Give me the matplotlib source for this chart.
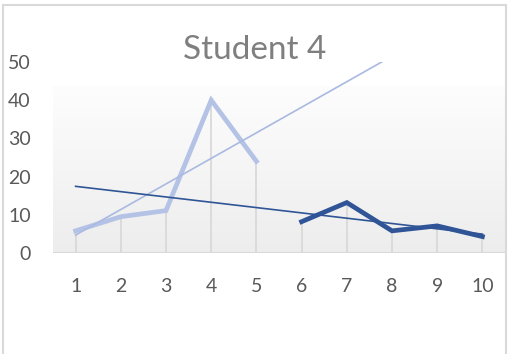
import numpy as np
import matplotlib
matplotlib.use("Agg")
import matplotlib.pyplot as plt
from matplotlib.patches import Rectangle

plt.rcParams['font.family'] = ['Lato', 'DejaVu Sans']

# Оценки студента 4 по заданиям
tasks = [1, 2, 3, 4, 5, 6, 7, 8, 9, 10]
first_part = [5.8, 9.5, 11.1, 40, 24]      # задания 1-5
second_part = [8.2, 13.2, 5.8, 7.1, 4.3]   # задания 6-10
tick_labels = [str(t) for t in tasks]
y_ticks = [0, 10, 20, 30, 40, 50]

light = '#b4c3e5'
dark = '#2f5597'
grid_gray = '#d9d9d9'
text_gray = '#595959'

fig = plt.figure(figsize=(5.09, 3.54), dpi=100)
W, H = 509, 354
ax = fig.add_axes([53 / W, (H - 253) / H, (505 - 53) / W, (253 - 62) / H])
ax.set_xlim(0.5, 10.5)
ax.set_ylim(0, 50)
ax.set_facecolor('none')

# заливка области построения: градиент от белого к светло-серому
grad = np.linspace(0, 1, 256).reshape(-1, 1)
ax.imshow(grad, cmap=matplotlib.colors.LinearSegmentedColormap.from_list(
    'bg', ['#ededed', '#fdfdfd']), extent=(0.5, 10.5, 0, 43.6),
    origin='lower', aspect='auto', zorder=0)

x1 = np.array(tasks[:5])
x2 = np.array(tasks[5:])
y1 = np.array(first_part)
y2 = np.array(second_part)

# линии проекции до оси
for x, y in zip(tasks, first_part + second_part):
    ax.plot([x, x], [0, y], color=grid_gray, lw=1.3, zorder=1)
ax.axhline(0, color=grid_gray, lw=1.5, zorder=1)

ax.plot(x1, y1, color=light, lw=3.4, solid_joinstyle='miter', zorder=3)
ax.plot(x2, y2, color=dark, lw=3.4, solid_joinstyle='miter', zorder=3)

# линейные тренды по каждой части
xt = np.array([1, 10])
k1, b1 = np.polyfit(x1, y1, 1)
k2, b2 = np.polyfit(x2, y2, 1)
ax.plot(xt, k1 * xt + b1, color='#a9b9e1', lw=1.2, zorder=4)
ax.plot(xt, k2 * xt + b2, color=dark, lw=1.2, zorder=4)

ax.set_xticks(tasks)
ax.set_xticklabels(tick_labels)
ax.set_yticks(y_ticks)
ax.tick_params(axis='both', length=0, labelsize=14, labelcolor=text_gray)
ax.tick_params(axis='y', pad=16)
ax.tick_params(axis='x', pad=18)
for s in ax.spines.values():
    s.set_visible(False)

fig.text(255 / W, 1 - 50 / H, 'Student 4', fontsize=24, color='#7f7f7f',
         ha='center', va='center')

# рамка диаграммы
fig.patches.append(Rectangle((3 / W, -0.01), 503 / W, 1 - 5 / H + 0.01,
                             transform=fig.transFigure, fill=False,
                             edgecolor=grid_gray, lw=1.5))

fig.savefig('out.png', dpi=100)
